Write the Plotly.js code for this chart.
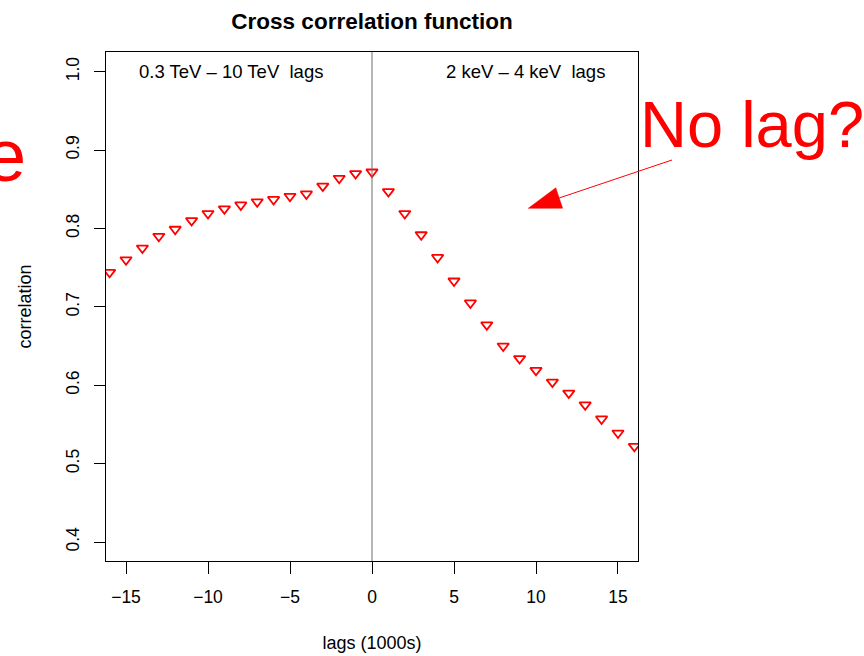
<!DOCTYPE html>
<html>
<head>
<meta charset="utf-8">
<script src="https://cdn.plot.ly/plotly-3.0.1.min.js"></script>
<style>
  html, body { margin: 0; padding: 0; background: #ffffff; }
  #chart { width: 864px; height: 656px; }
</style>
</head>
<body>
<div id="chart"></div>
<script>
// Cross correlation between the two energy bands, lag in units of 1000 s
const lags = [-16, -15, -14, -13, -12, -11, -10, -9, -8, -7, -6, -5, -4, -3, -2, -1,
              0, 1, 2, 3, 4, 5, 6, 7, 8, 9, 10, 11, 12, 13, 14, 15, 16];
const correlation = [0.744, 0.760, 0.775, 0.790, 0.799, 0.810, 0.819, 0.825, 0.830, 0.834,
                     0.837, 0.841, 0.844, 0.854, 0.864, 0.870, 0.872,
                     0.847, 0.819, 0.792, 0.763, 0.733, 0.705, 0.677, 0.650, 0.634,
                     0.619, 0.604, 0.590, 0.575, 0.557, 0.539, 0.522];
const xTicks = [-15, -10, -5, 0, 5, 10, 15];
const xTickText = ['\u221215', '\u221210', '\u22125', '0', '5', '10', '15'];
const yTicks = [0.4, 0.5, 0.6, 0.7, 0.8, 0.9, 1.0];
const yTickText = ['0.4', '0.5', '0.6', '0.7', '0.8', '0.9', '1.0'];
const bandLabels = ['0.3 TeV \u2013 10 TeV  lags', '2 keV \u2013 4 keV  lags'];
const bandLabelX = [-8.6, 9.36];

const FONT = 'Liberation Sans, Arial, Helvetica, sans-serif';
const RED = '#ff0000';

const trace = {
  x: lags,
  y: correlation,
  type: 'scatter',
  mode: 'markers',
  cliponaxis: true,
  marker: {
    symbol: 'triangle-down-open',
    size: 10,
    color: RED,
    line: { color: RED, width: 1.8 }
  },
  hoverinfo: 'x+y'
};

const layout = {
  width: 864,
  height: 656,
  paper_bgcolor: '#ffffff',
  plot_bgcolor: '#ffffff',
  showlegend: false,
  margin: { l: 106, r: 226, t: 52, b: 95, pad: 0 },
  font: { family: FONT, size: 17, color: '#000000' },
  title: {
    text: '<b>Cross correlation function</b>',
    font: { family: FONT, size: 22.5, color: '#000000' },
    x: 372 / 864, xanchor: 'center', xref: 'container',
    y: 1 - 21 / 656, yanchor: 'middle', yref: 'container'
  },
  xaxis: {
    range: [-16.22, 16.22],
    tickmode: 'array', tickvals: xTicks, ticktext: xTickText,
    ticks: 'outside', ticklen: 12, tickwidth: 1, tickcolor: '#000000',
    showline: true, linecolor: '#000000', linewidth: 1, mirror: true,
    showgrid: false, zeroline: false,
    tickfont: { family: FONT, size: 17.5 },
    ticklabelstandoff: 8,
    title: { text: 'lags (1000s)', font: { family: FONT, size: 18 }, standoff: 30 },
    automargin: false
  },
  yaxis: {
    range: [0.3758, 1.0251],
    tickmode: 'array', tickvals: yTicks, ticktext: yTickText,
    tickangle: -90,
    ticks: 'outside', ticklen: 11, tickwidth: 1, tickcolor: '#000000',
    showline: true, linecolor: '#000000', linewidth: 1, mirror: true,
    showgrid: false, zeroline: false,
    tickfont: { family: FONT, size: 17.5 },
    ticklabelstandoff: 8,
    title: { text: 'correlation', font: { family: FONT, size: 18 }, standoff: 26 },
    automargin: false
  },
  shapes: [
    // zero-lag reference line
    { type: 'line', xref: 'x', yref: 'paper', x0: 0, x1: 0, y0: 0, y1: 1,
      line: { color: '#6e6e6e', width: 1 } },
    // arrow shaft
    { type: 'line', xref: 'paper', yref: 'paper',
      x0: 1.0639, y0: 0.7878, x1: 0.8519, y1: 0.7132,
      line: { color: RED, width: 1 } },
    // arrow head
    { type: 'path', xref: 'paper', yref: 'paper',
      path: 'M 0.7938 0.6929 L 0.8583 0.6931 L 0.8455 0.7332 Z',
      fillcolor: RED, line: { color: RED, width: 0.5 } }
  ],
  annotations: [
    { text: bandLabels[0], x: bandLabelX[0], y: 1.0, xref: 'x', yref: 'y',
      showarrow: false, xanchor: 'center', yanchor: 'middle',
      font: { family: FONT, size: 18.5, color: '#000000' } },
    { text: bandLabels[1], x: bandLabelX[1], y: 1.0, xref: 'x', yref: 'y',
      showarrow: false, xanchor: 'center', yanchor: 'middle',
      font: { family: FONT, size: 18.5, color: '#000000' } },
    { text: 'No lag?', x: 1.0, y: 0.8576, xref: 'paper', yref: 'paper',
      showarrow: false, xanchor: 'left', yanchor: 'middle',
      font: { family: FONT, size: 65, color: RED } },
    { text: 'e', x: -0.1466, y: 0.7969, xref: 'paper', yref: 'paper',
      showarrow: false, xanchor: 'right', yanchor: 'middle',
      font: { family: FONT, size: 74, color: RED } }
  ]
};

Plotly.newPlot('chart', [trace], layout, { staticPlot: true, displayModeBar: false });
</script>
</body>
</html>
